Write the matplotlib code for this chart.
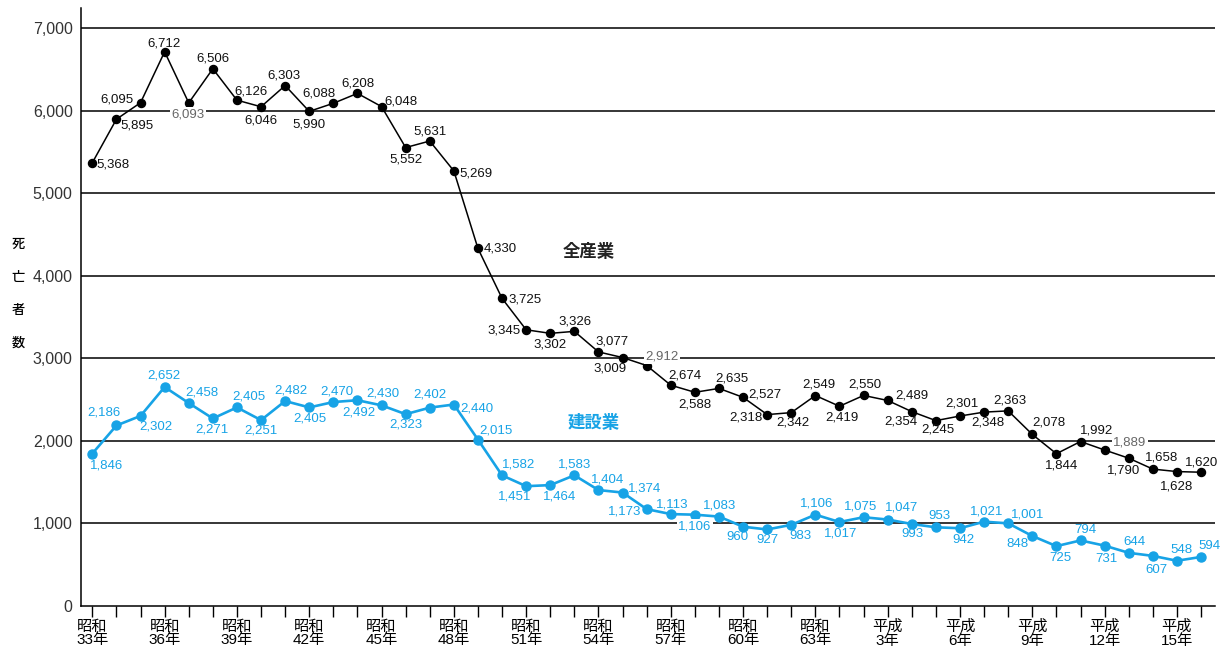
import matplotlib
matplotlib.use("Agg")
import matplotlib.pyplot as plt

plt.rcParams['font.family'] = ['Liberation Sans', 'Noto Sans CJK JP', 'DejaVu Sans']

# 昭和33年 (1958) .. 平成16年 (2004)
years = list(range(47))
zen_sangyo = [5368, 5895, 6095, 6712, 6093, 6506, 6126, 6046, 6303, 5990,
              6088, 6208, 6048, 5552, 5631, 5269, 4330, 3725, 3345, 3302,
              3326, 3077, 3009, 2912, 2674, 2588, 2635, 2527, 2318, 2342,
              2549, 2419, 2550, 2489, 2354, 2245, 2301, 2348, 2363, 2078,
              1844, 1992, 1889, 1790, 1658, 1628, 1620]
kensetsu = [1846, 2186, 2302, 2652, 2458, 2271, 2405, 2251, 2482, 2405,
            2470, 2492, 2430, 2323, 2402, 2440, 2015, 1582, 1451, 1464,
            1583, 1404, 1374, 1173, 1113, 1106, 1083, 960, 927, 983,
            1106, 1017, 1075, 1047, 993, 953, 942, 1021, 1001, 848,
            725, 794, 731, 644, 607, 548, 594]
tick_labels = ['昭和\n33年', '', '', '昭和\n36年', '', '', '昭和\n39年', '', '',
               '昭和\n42年', '', '', '昭和\n45年', '', '', '昭和\n48年', '', '',
               '昭和\n51年', '', '', '昭和\n54年', '', '', '昭和\n57年', '', '',
               '昭和\n60年', '', '', '昭和\n63年', '', '', '平成\n3年', '', '',
               '平成\n6年', '', '', '平成\n9年', '', '', '平成\n12年', '', '',
               '平成\n15年', '']

# label offsets in pixels (dx, dy up)
zen_off = [(21, -2), (21, -6), (-24, 3), (-1, 8), (-1, -12), (0, 10), (14, 9),
           (0, -14), (-1, 10), (0, -13), (-14, 10), (0, 10), (19, 5), (0, -12),
           (0, 10), (22, -3), (22, 0), (23, -1), (-22, -1), (0, -11), (1, 10),
           (14, 10), (-13, -11), (15, 9), (14, 10), (0, -12), (13, 10), (22, 3),
           (-21, -3), (2, -10), (3, 11), (2, -11), (1, 11), (24, 5), (-11, -10),
           (2, -9), (2, 12), (4, -10), (2, 10), (17, 12), (5, -12), (16, 11),
           (25, 8), (-5, -12), (9, 12), (0, -15), (1, 10)]
ken_off = [(14, -12), (-12, 13), (15, -11), (-1, 12), (13, 11), (-1, -11), (12, 11),
           (0, -10), (6, 11), (1, -11), (4, 11), (1, -12), (1, 12), (0, -10),
           (0, 13), (23, -4), (18, 9), (17, 11), (-12, -10), (9, -11), (0, 11),
           (9, 11), (22, 4), (-22, -2), (1, 10), (0, -12), (1, 11), (-6, -10),
           (0, -11), (9, -11), (1, 11), (1, -11), (-3, 11), (14, 12), (1, -10),
           (4, 11), (3, -12), (3, 10), (19, 9), (-15, -8), (4, -12), (5, 10),
           (2, -13), (6, 11), (4, -14), (5, 11), (8, 11)]
zen_boxed = [4, 23, 42]
ken_boxed = [25]

blue = '#17a3e6'

fig = plt.figure(figsize=(12.29, 6.51), dpi=100)
ax = fig.add_axes([81 / 1229, 45 / 651, 1134 / 1229, 598 / 651])

for v in range(1000, 8000, 1000):
    ax.axhline(v, color='black', lw=1.1, zorder=1)

ax.plot(years, zen_sangyo, color='black', lw=1.1, marker='o', ms=5.8, zorder=3)
ax.plot(years, kensetsu, color=blue, lw=1.9, marker='o', ms=6.5, zorder=3)

for i, v in enumerate(zen_sangyo):
    boxed = i in zen_boxed
    ax.annotate(f'{v:,}', (years[i], v), xytext=zen_off[i], textcoords='offset pixels',
                ha='center', va='center', fontsize=9.5,
                color='#666666' if boxed else '#111111', zorder=4,
                bbox=dict(fc='white', ec='none', pad=1) if boxed else None)
for i, v in enumerate(kensetsu):
    boxed = i in ken_boxed
    ax.annotate(f'{v:,}', (years[i], v), xytext=ken_off[i], textcoords='offset pixels',
                ha='center', va='center', fontsize=9.5, color=blue, zorder=4,
                bbox=dict(fc='white', ec='none', pad=1) if boxed else None)

ax.text(20.6, 4290, '全産業', fontsize=12.5, fontweight='bold', ha='center', va='center',
        color='#222222')
ax.text(20.8, 2220, '建設業', fontsize=12.5, fontweight='bold', color=blue,
        ha='center', va='center')

ax.set_xlim(-0.47, 46.58)
ax.set_ylim(0, 7242)
ax.set_xticks(years)
ax.set_xticklabels(tick_labels, fontsize=11, linespacing=0.95)
ax.set_yticks(range(0, 8000, 1000))
ax.set_yticklabels([f'{v:,}' for v in range(0, 8000, 1000)], fontsize=11.5, color='#333333')
ax.tick_params(axis='x', length=8, width=1, direction='out', pad=2)
ax.tick_params(axis='y', length=0, pad=6)
ax.spines['top'].set_visible(False)
ax.spines['right'].set_visible(False)
ax.spines['left'].set_linewidth(1.1)
ax.spines['bottom'].set_linewidth(1.1)

for k, ch in enumerate('死亡者数'):
    fig.text(18 / 1229, 1 - (245 + 33 * k) / 651, ch, fontsize=9.5,
             ha='center', va='center', fontweight='medium')

fig.savefig('out.png', dpi=100)
